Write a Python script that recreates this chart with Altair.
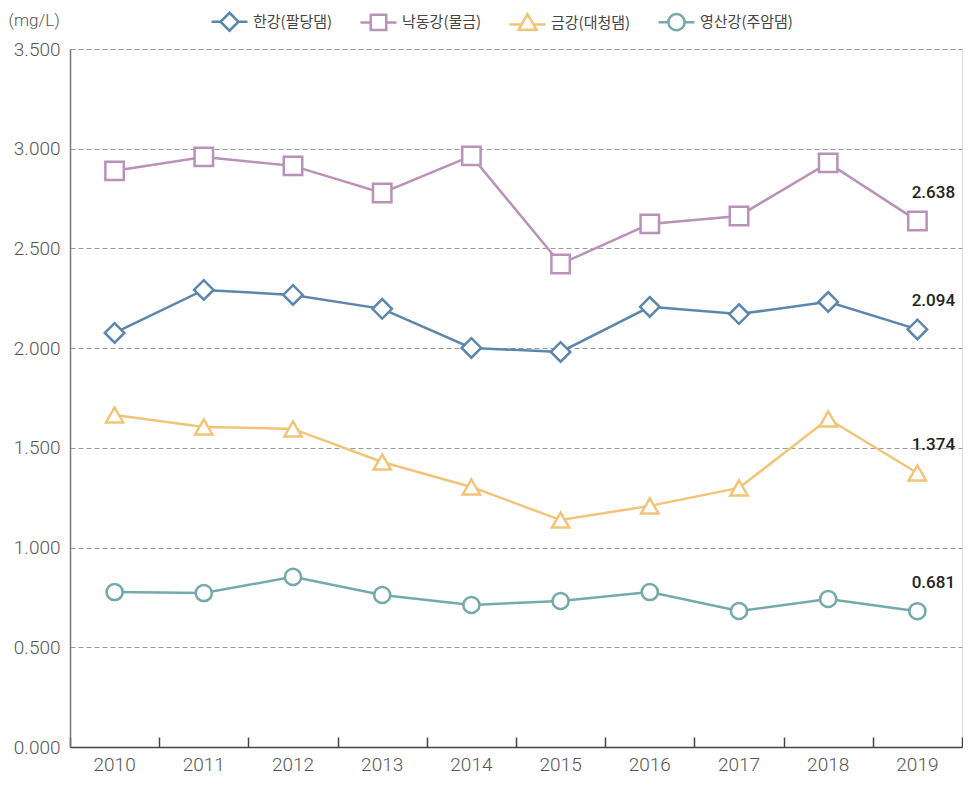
import altair as alt
import pandas as pd

years = ["2010", "2011", "2012", "2013", "2014", "2015", "2016", "2017", "2018", "2019"]
series_names = ["한강(팔당댐)", "낙동강(물금)", "금강(대청댐)", "영산강(주암댐)"]
han = [2.076, 2.292, 2.267, 2.197, 2.001, 1.981, 2.207, 2.171, 2.232, 2.094]
nakdong = [2.889, 2.959, 2.914, 2.778, 2.964, 2.422, 2.623, 2.663, 2.929, 2.638]
geum = [1.665, 1.605, 1.595, 1.429, 1.304, 1.138, 1.209, 1.299, 1.645, 1.374]
yeongsan = [0.777, 0.772, 0.853, 0.762, 0.712, 0.732, 0.777, 0.682, 0.742, 0.681]
y_ticks = [0.0, 0.5, 1.0, 1.5, 2.0, 2.5, 3.0, 3.5]

colors = ["#5b86ad", "#b991b9", "#f2c478", "#74aaab"]
shapes = ["diamond", "square", "triangle-up", "circle"]
sizes = [380, 260, 320, 200]
legend_paths = [
    "M-1,0L-0.5,0M0.5,0L1,0M0,-0.5L0.5,0L0,0.5L-0.5,0Z",
    "M-1,0L-0.43,0M0.43,0L1,0M-0.43,-0.43L0.43,-0.43L0.43,0.43L-0.43,0.43Z",
    "M-1,0.1L-0.32,0.1M0.32,0.1L1,0.1M0,-0.48L0.5,0.4L-0.5,0.4Z",
    "M-1,0L-0.45,0M0.45,0L1,0M-0.45,0A0.45,0.45 0 1,0 0.45,0A0.45,0.45 0 1,0 -0.45,0Z",
]

rows = []
for name, vals in zip(series_names, [han, nakdong, geum, yeongsan]):
    for yr, v in zip(years, vals):
        rows.append({"year": yr, "series": name, "value": v})
df = pd.DataFrame(rows)

W, H = 892, 698
FONT = "Roboto"

y_axis = alt.Axis(
    values=y_ticks, format=".3f", title="(mg/L)", titleAngle=0, titleAlign="left",
    titleBaseline="middle", titleX=-62, titleY=-29, titleFont=FONT, titleFontSize=17,
    titleFontWeight=300, titleColor="#555555",
    labelFont=FONT, labelFontSize=19, labelFontWeight=300, labelColor="#555555",
    labelPadding=10, ticks=False, tickSize=0, domainColor="#777777", domainWidth=1.5,
    grid=True, gridColor="#9a9a9a", gridDash=[5, 3], gridWidth=1,
)
y_enc = alt.Y("value:Q", scale=alt.Scale(domain=[0, 3.5], nice=False), axis=y_axis)

x_main_axis = alt.Axis(
    title=None, labelAngle=0, labelFont=FONT, labelFontSize=19, labelFontWeight=300,
    labelColor="#555555", labelPadding=8, ticks=False, tickSize=0,
    domainColor="#444444", domainWidth=1.5, grid=False, orient="bottom",
)
x_tick_axis = alt.Axis(
    title=None, labels=False, domain=False, ticks=True, tickBand="extent",
    tickSize=10, tickColor="#444444", tickWidth=1.5, grid=False,
    orient="bottom", offset=-10,
)
x_scale = alt.Scale(domain=years, paddingInner=0, paddingOuter=0)

color_scale = alt.Scale(domain=series_names, range=colors)

legend_style = dict(
    title=None, orient="none", direction="horizontal", legendX=140, legendY=-47,
    symbolSize=1296, symbolStrokeWidth=2.5, symbolFillColor="white",
    labelFont="Noto Sans CJK KR", labelFontSize=15, labelColor="#444444",
    labelOffset=4, columnPadding=22, symbolOpacity=1,
)

base = alt.Chart(df)

lines = base.mark_line(strokeWidth=2.5, opacity=1).encode(
    x=alt.X("year:O", scale=x_scale, axis=x_main_axis),
    y=y_enc,
    color=alt.Color("series:N", scale=color_scale, legend=None),
    detail="series:N",
)

points = base.mark_point(filled=False, fill="white", strokeWidth=2.5, opacity=1).encode(
    x=alt.X("year:O", scale=x_scale, axis=None),
    y=y_enc,
    color=alt.Color("series:N", scale=color_scale, legend=None),
    shape=alt.Shape("series:N", scale=alt.Scale(domain=series_names, range=shapes), legend=None),
    size=alt.Size("series:N", scale=alt.Scale(domain=series_names, range=sizes), legend=None),
)

legend_layer = base.transform_filter("datum.value < 0").mark_point(
    filled=False, fill="white", strokeWidth=2.5, opacity=1
).encode(
    x=alt.X("year:O", scale=x_scale, axis=None),
    y=y_enc,
    color=alt.Color("series:N", scale=color_scale, legend=alt.Legend(**legend_style)),
    shape=alt.Shape(
        "series:N", scale=alt.Scale(domain=series_names, range=legend_paths),
        legend=alt.Legend(**legend_style),
    ),
)

labels = base.transform_filter(alt.datum.year == "2019").mark_text(
    dx=16, dy=-28, font=FONT, fontSize=17, fontWeight=500, color="#222222"
).encode(
    x=alt.X("year:O", scale=x_scale, axis=x_tick_axis),
    y=y_enc,
    text=alt.Text("value:Q", format=".3f"),
)

chart = alt.layer(lines, points, legend_layer, labels).resolve_scale(
    color="independent", shape="independent"
).resolve_axis(x="independent").properties(
    width=W, height=H,
    autosize=alt.AutoSizeParams(type="none"),
    padding={"left": 62, "top": 41, "right": 1, "bottom": 31},
).configure_view(stroke=None).configure(background="white")

chart.save("out.html", embed_options={"renderer": "svg", "actions": False})
